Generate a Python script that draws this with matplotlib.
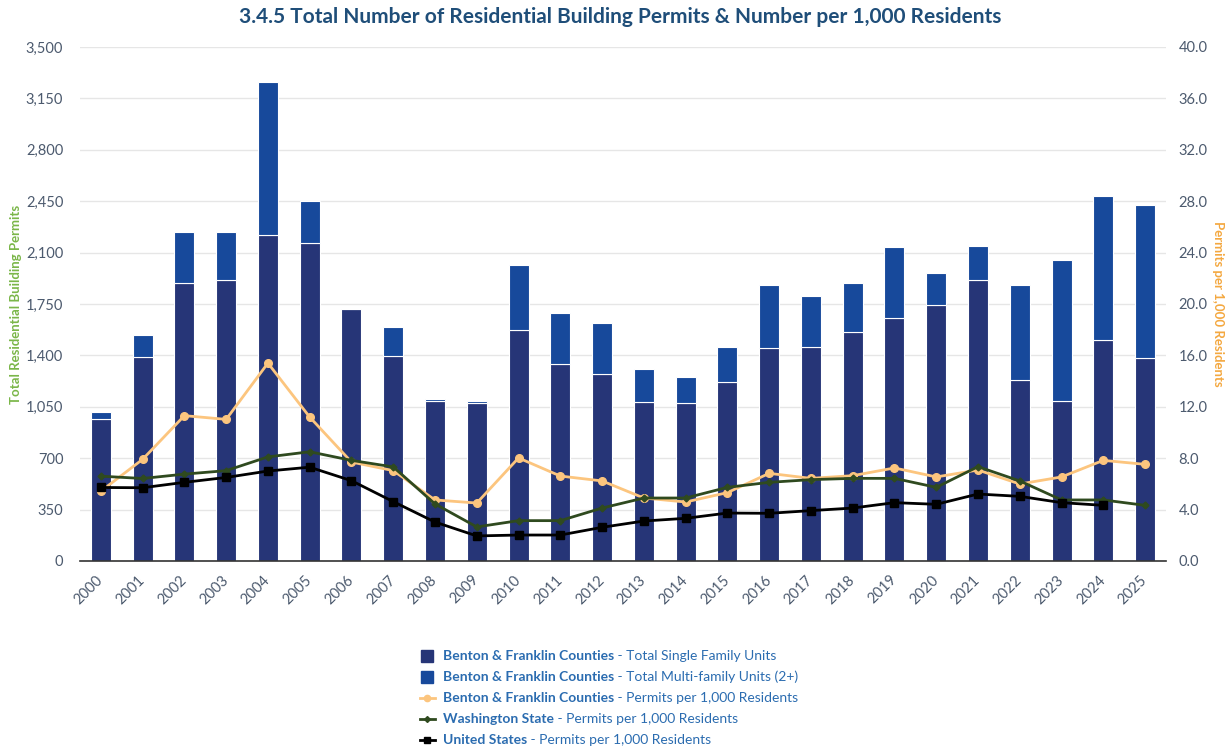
import matplotlib
matplotlib.use("Agg")
import matplotlib.pyplot as plt
from matplotlib.lines import Line2D
from matplotlib.patches import Rectangle
from matplotlib.ticker import FuncFormatter

plt.rcParams['font.family'] = ['Lato', 'DejaVu Sans']

# data
YEARS = [str(y) for y in range(2000, 2026)]
SINGLE_FAMILY = [970, 1388, 1893, 1916, 2221, 2165, 1713, 1397, 1086, 1075,
                 1575, 1342, 1274, 1084, 1077, 1220, 1451, 1458, 1560, 1657,
                 1743, 1913, 1233, 1091, 1505, 1383]
MULTI_FAMILY = [43, 152, 349, 326, 1041, 283, 0, 199, 14, 11,
                442, 349, 349, 220, 179, 240, 430, 349, 335, 482,
                220, 233, 648, 960, 981, 1042]
BF_PER_1000 = [5.43, 7.91, 11.31, 11.02, 15.4, 11.2, 7.7, 7.03, 4.75, 4.51,
               8.02, 6.61, 6.23, 4.9, 4.59, 5.32, 6.82, 6.43, 6.64, 7.24,
               6.54, 7.08, 5.99, 6.54, 7.83, 7.52]
WA_PER_1000 = [6.6, 6.42, 6.76, 7.03, 8.1, 8.5, 7.83, 7.32, 4.44, 2.65,
               3.14, 3.14, 4.12, 4.9, 4.9, 5.73, 6.12, 6.33, 6.43, 6.43,
               5.73, 7.34, 6.23, 4.75, 4.75, 4.33]
US_PER_1000 = [5.72, 5.7, 6.12, 6.5, 7.0, 7.3, 6.25, 4.62, 3.03, 1.95,
               2.02, 2.02, 2.62, 3.11, 3.32, 3.73, 3.71, 3.92, 4.12, 4.54,
               4.41, 5.21, 5.03, 4.54, 4.33]

NAVY = "#263577"
BLUE = "#17499b"
ORANGE = "#fcc57e"
GREEN = "#2f4a1f"
BLACK = "#000000"
TICK_COLOR = "#4c5a6e"
LEGEND_BLUE = "#2b6cb0"

fig = plt.figure(figsize=(12.32, 7.53), dpi=100)
ax1 = fig.add_axes([0.0649, 0.255, 0.8815, 0.6826])
x = list(range(len(YEARS)))

ax1.bar(x, SINGLE_FAMILY, width=0.48, color=NAVY, edgecolor="white",
        linewidth=0.8, zorder=2)
ax1.bar(x, MULTI_FAMILY, width=0.48, bottom=SINGLE_FAMILY, color=BLUE,
        edgecolor="white", linewidth=0.8, zorder=2)

ax1.set_xlim(-0.5, len(YEARS) - 0.5)
ax1.set_ylim(0, 3500)
ax1.set_yticks(range(0, 3501, 350))
ax1.yaxis.set_major_formatter(FuncFormatter(lambda v, p: f"{int(v):,}"))
ax1.grid(axis="y", color="#e6e6e6", linewidth=1, zorder=0)
ax1.set_axisbelow(True)
for s in ["top", "right", "left"]:
    ax1.spines[s].set_visible(False)
ax1.spines["bottom"].set_color("#333333")
ax1.spines["bottom"].set_linewidth(1.2)
ax1.tick_params(axis="y", length=0, pad=12, labelsize=10.5,
                labelcolor=TICK_COLOR)
ax1.tick_params(axis="x", length=0, pad=12, labelsize=10.5,
                labelcolor=TICK_COLOR)
ax1.set_xticks(x)
ax1.set_xticklabels(YEARS, rotation=45, ha="right", va="center",
                    rotation_mode="anchor")
ax1.set_ylabel("Total Residential Building Permits", color="#7ab648",
               fontsize=9.5, fontweight="bold")
ax1.yaxis.set_label_coords(-0.053, 0.5)

ax2 = ax1.twinx()
ax2.plot(x, BF_PER_1000, color=ORANGE, linewidth=2, marker="o",
         markersize=5.5, zorder=3)
ax2.plot(x, WA_PER_1000, color=GREEN, linewidth=2, marker="D",
         markersize=3.5, zorder=3)
ax2.plot(x[:len(US_PER_1000)], US_PER_1000, color=BLACK, linewidth=2,
         marker="s", markersize=5.5, zorder=4)
ax2.set_ylim(0, 40)
ax2.set_yticks(range(0, 41, 4))
ax2.yaxis.set_major_formatter(FuncFormatter(lambda v, p: f"{v:.1f}"))
for s in ["top", "right", "left", "bottom"]:
    ax2.spines[s].set_visible(False)
ax2.tick_params(axis="y", length=0, pad=9, labelsize=10.5,
                labelcolor=TICK_COLOR)
ax2.set_ylabel("Permits per 1,000 Residents", color="#f4a840",
               fontsize=9.5, fontweight="bold", rotation=270)
ax2.yaxis.set_label_coords(1.053, 0.5)

fig.text(0.503, 0.977, "3.4.5 Total Number of Residential Building Permits "
         "& Number per 1,000 Residents", ha="center", va="center",
         fontsize=15, fontweight="bold", color="#1f4e79")

# custom legend below the chart
legend_rows = [
    ("bar", NAVY, None, "Benton & Franklin Counties", " - Total Single Family Units"),
    ("bar", BLUE, None, "Benton & Franklin Counties", " - Total Multi-family Units (2+)"),
    ("line", ORANGE, "o", "Benton & Franklin Counties", " - Permits per 1,000 Residents"),
    ("line", GREEN, "D", "Washington State", " - Permits per 1,000 Residents"),
    ("line", BLACK, "s", "United States", " - Permits per 1,000 Residents"),
]
W, H = 1232, 753
fig.canvas.draw()
renderer = fig.canvas.get_renderer()
for i, (kind, color, marker, bold, rest) in enumerate(legend_rows):
    yc = 656 + i * 21
    yf = 1 - yc / H
    if kind == "bar":
        fig.add_artist(Rectangle((421 / W, 1 - (yc + 6) / H), 12 / W, 12 / H,
                                 transform=fig.transFigure, color=color))
    else:
        fig.add_artist(Line2D([420 / W, 435 / W], [yf, yf],
                              transform=fig.transFigure, color=color,
                              linewidth=2))
        fig.add_artist(Line2D([427.5 / W], [yf], transform=fig.transFigure,
                              color=color, marker=marker, linestyle="none",
                              markersize=3 if marker == "D" else 4.5))
    t = fig.text(443 / W, yf, bold, ha="left", va="center", fontsize=10,
                 fontweight="bold", color=LEGEND_BLUE)
    bb = t.get_window_extent(renderer=renderer)
    fig.text(bb.x1 / W, yf, rest, ha="left", va="center", fontsize=10,
             color=LEGEND_BLUE)

fig.savefig("out.png", dpi=100)
